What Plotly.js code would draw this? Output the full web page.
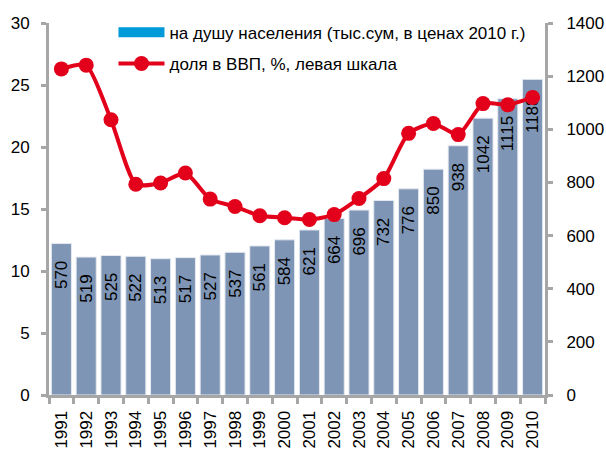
<!DOCTYPE html>
<html>
<head>
<meta charset="utf-8">
<script src="https://cdn.plot.ly/plotly-3.0.1.min.js"></script>
<style>html,body{margin:0;padding:0;background:#fff;}</style>
</head>
<body>
<div id="chart" style="width:606px;height:450px;"></div>
<script>
var years = ['1991','1992','1993','1994','1995','1996','1997','1998','1999','2000','2001','2002','2003','2004','2005','2006','2007','2008','2009','2010'];
var perCapita = [570,519,525,522,513,517,527,537,561,584,621,664,696,732,776,850,938,1042,1115,1188];
var shareGDP = [26.3,26.6,22.2,17.0,17.1,17.9,15.8,15.2,14.45,14.3,14.15,14.55,15.85,17.45,21.1,21.9,21.0,23.5,23.4,24.0];
var barName = 'на душу населения (тыс.сум, в ценах 2010 г.)';
var lineName = 'доля в ВВП, %, левая шкала';
var leftTicks = [0,5,10,15,20,25,30];
var rightTicks = [0,200,400,600,800,1000,1200,1400];

var FONT = 'Liberation Sans Narrow, Arial Narrow, Arial, sans-serif';
var GRAY = '#a6a6a6';
var nb = '\u00a0\u00a0\u00a0';

var traces = [
  {
    type: 'bar', x: years, y: perCapita, yaxis: 'y', showlegend: false,
    marker: {color: '#7f95b5', line: {color: '#e4e9f0', width: 1}},
    text: perCapita.map(function(v){ return v + nb; }),
    textposition: 'inside', insidetextanchor: 'end', textangle: -90,
    constraintext: 'none', cliponaxis: false,
    textfont: {family: FONT, size: 17, color: '#000'},
    hoverinfo: 'skip'
  },
  {
    type: 'scatter', mode: 'lines', x: years, y: years.map(function(){ return null; }),
    yaxis: 'y', name: barName, legendgroup: 'a',
    line: {color: '#009ad9', width: 10}, hoverinfo: 'skip'
  },
  {
    type: 'scatter', mode: 'lines+markers', x: years, y: shareGDP, yaxis: 'y2',
    name: lineName, legendgroup: 'b',
    line: {color: '#e2001a', width: 4, shape: 'spline', smoothing: 0.6},
    marker: {color: '#e2001a', size: 15},
    cliponaxis: false
  }
];

var layout = {
  width: 606, height: 450,
  margin: {l: 49, r: 61, t: 23, b: 55, autoexpand: false},
  paper_bgcolor: '#fff', plot_bgcolor: '#fff',
  font: {family: FONT, size: 17, color: '#000'},
  bargap: 0.19,
  showlegend: true,
  legend: {
    x: 0.13, y: 1.022, xanchor: 'left', yanchor: 'top',
    bgcolor: 'rgba(0,0,0,0)', font: {family: FONT, size: 17, color: '#000'},
    itemwidth: 46, traceorder: 'grouped', tracegroupgap: 6
  },
  xaxis: {
    type: 'category', range: [-0.5, 19.5], autorange: false,
    tickangle: -90, showgrid: false, automargin: false,
    showline: true, linecolor: GRAY, linewidth: 3,
    ticks: 'outside', ticklen: 6, tickwidth: 3, tickcolor: GRAY,
    tickson: 'boundaries', ticklabelstandoff: 6, tickfont: {family: FONT, size: 17}
  },
  yaxis: {
    side: 'right', range: [0, 1400], tickvals: rightTicks, showgrid: false, zeroline: false,
    automargin: false,
    showline: true, linecolor: GRAY, linewidth: 3,
    ticks: 'outside', ticklen: 5, tickwidth: 3, tickcolor: GRAY,
    ticklabelstandoff: 10, tickfont: {family: FONT, size: 17}
  },
  yaxis2: {
    overlaying: 'y', side: 'left', range: [0, 30], tickvals: leftTicks, showgrid: false, zeroline: false,
    automargin: false,
    showline: true, linecolor: GRAY, linewidth: 3,
    ticks: 'outside', ticklen: 5, tickwidth: 3, tickcolor: GRAY,
    ticklabelstandoff: 8, tickfont: {family: FONT, size: 17}
  }
};

Plotly.newPlot('chart', traces, layout, {displayModeBar: false, staticPlot: true});
</script>
</body>
</html>
